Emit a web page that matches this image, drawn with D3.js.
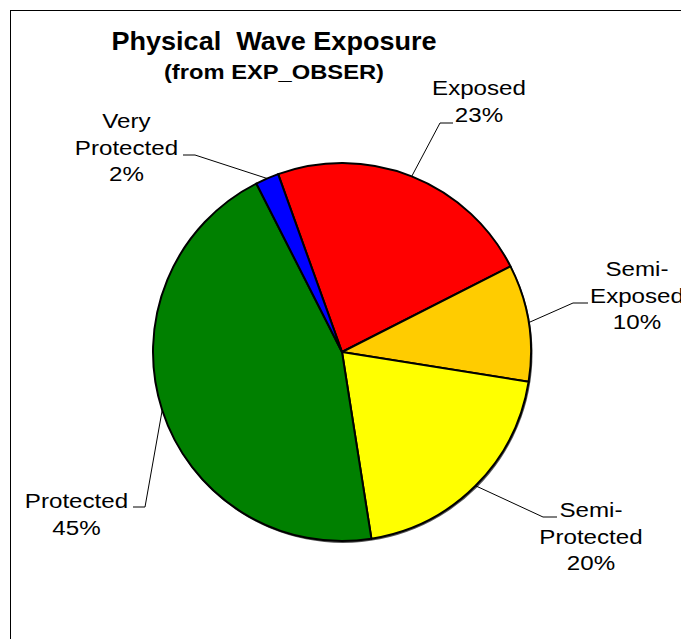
<!DOCTYPE html>
<html>
<head>
<meta charset="utf-8">
<script src="https://cdn.jsdelivr.net/npm/d3@7"></script>
<style>
  html, body { margin: 0; padding: 0; background: #fff; }
  svg { display: block; }
  text { font-family: "Liberation Sans", Arial, sans-serif; fill: #000; }
</style>
</head>
<body>
<svg id="chart" width="681" height="639"></svg>
<script>
// ---- data ----
const categories = ["Exposed", "Semi-Exposed", "Semi-Protected", "Protected", "Very Protected"];
const labelLines = [["Exposed"], ["Semi-", "Exposed"], ["Semi-", "Protected"], ["Protected"], ["Very", "Protected"]];
const values = [23, 10, 20, 45, 2];
const colors = ["#FF0000", "#FFCC00", "#FFFF00", "#008000", "#0000FF"];
const titleLines = ["Physical  Wave Exposure", "(from EXP_OBSER)"];

// ---- layout (not data) ----
const W = 681, H = 639;
const cx = 342, cy = 352, R = 189;
const startDeg = -19.75;
// label layout: text centre x, first baseline y, elbow point, horizontal end
const labelLayout = [
  { tx: 479,   ty: 95,  ex: 440, ey: 123, hx: 453 },
  { tx: 637,   ty: 276, ex: 573, ey: 303, hx: 588 },
  { tx: 591,   ty: 517, ex: 543, ey: 517, hx: 557 },
  { tx: 76.5,  ty: 508, ex: 145, ey: 507, hx: 133 },
  { tx: 126.5, ty: 128, ex: 195, ey: 155, hx: 183 }
];
const lineH = 26.5;
const labelFont = 21, labelStretch = 1.15;

const svg = d3.select("#chart");
svg.append("rect").attr("width", W).attr("height", H).attr("fill", "#fff");
// outer frame (right/bottom sides fall outside the view)
svg.append("rect").attr("x", 10.5).attr("y", 10.5).attr("width", 800).attr("height", 800)
  .attr("fill", "none").attr("stroke", "#000").attr("stroke-width", 1);

// title
const tg = svg.append("g");
tg.append("text").attr("transform", "translate(274,50) scale(1.04,1)")
  .attr("text-anchor", "middle").attr("font-size", 26).attr("font-weight", "bold")
  .style("white-space", "pre").text(titleLines[0]);
tg.append("text").attr("transform", "translate(274,78.5) scale(1.13,1)")
  .attr("text-anchor", "middle").attr("font-size", 21).attr("font-weight", "bold")
  .text(titleLines[1]);

// pie
const rows = categories.map((c, i) => ({ cat: c, value: values[i], color: colors[i], lines: labelLines[i], i }));
const total = d3.sum(values);
const pie = d3.pie().value(d => d.value).sort(null)
  .startAngle(startDeg * Math.PI / 180)
  .endAngle(startDeg * Math.PI / 180 + 2 * Math.PI);
const arcs = pie(rows);
const arc = d3.arc().innerRadius(0).outerRadius(R);

const pg = svg.append("g").attr("transform", `translate(${cx},${cy})`);
// soft shadow
pg.append("circle").attr("cx", 1).attr("cy", 1.5).attr("r", R + 0.5).attr("fill", "#555");
pg.selectAll("path.slice").data(arcs).enter().append("path")
  .attr("class", "slice")
  .attr("d", arc)
  .attr("fill", d => d.data.color)
  .attr("stroke", "#000").attr("stroke-width", 2).attr("stroke-linejoin", "round");

// labels with leader lines
arcs.forEach((a, k) => {
  const L = labelLayout[k];
  const mid = (a.startAngle + a.endAngle) / 2;
  const px = cx + R * Math.sin(mid), py = cy - R * Math.cos(mid);
  svg.append("path")
    .attr("d", d3.line()([[px, py], [L.ex, L.ey], [L.hx, L.ey]]))
    .attr("fill", "none").attr("stroke", "#000").attr("stroke-width", 1);
  const pct = Math.round(a.data.value / total * 100) + "%";
  const lines = a.data.lines.concat([pct]);
  lines.forEach((t, j) => {
    svg.append("text")
      .attr("transform", `translate(${L.tx},${L.ty + j * lineH}) scale(${labelStretch},1)`)
      .attr("text-anchor", "middle").attr("font-size", labelFont)
      .text(t);
  });
});
</script>
</body>
</html>
